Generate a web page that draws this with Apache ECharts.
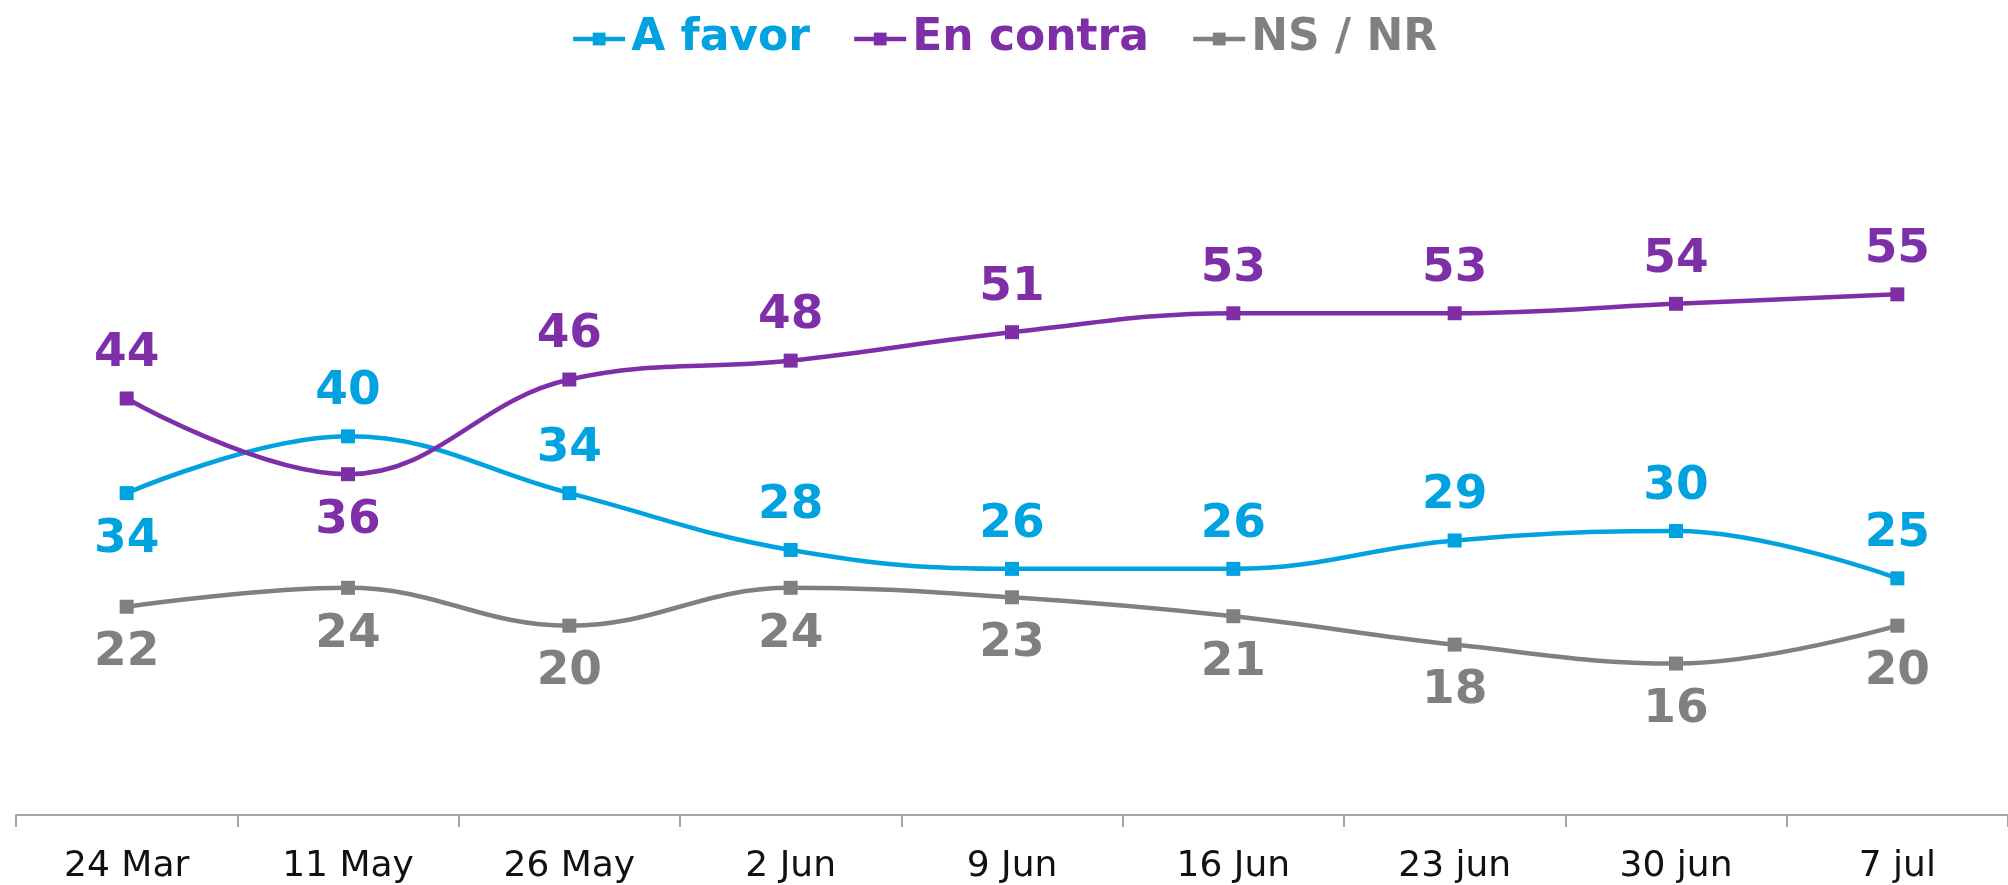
<!DOCTYPE html>
<html>
<head>
<meta charset="utf-8">
<script src="https://cdn.jsdelivr.net/npm/echarts@6/dist/echarts.min.js"></script>
<style>
  html, body { margin: 0; padding: 0; background: #fff; }
  #chart { width: 2008px; height: 885px; }
</style>
</head>
<body>
<div id="chart"></div>
<script>
const categories = ['24 Mar', '11 May', '26 May', '2 Jun', '9 Jun', '16 Jun', '23 jun', '30 jun', '7 jul'];
const aFavor = [34, 40, 34, 28, 26, 26, 29, 30, 25];
const enContra = [44, 36, 46, 48, 51, 53, 53, 54, 55];
const nsNr = [22, 24, 20, 24, 23, 21, 18, 16, 20];

// which labels sit under the point instead of above it
const aFavorBelow = [0];
const enContraBelow = [1];

const BLUE = '#00A2DF';
const PURPLE = '#7E2FA8';
const GRAY = '#808080';

const chart = echarts.init(document.getElementById('chart'));

const labelFont = {
    fontFamily: 'DejaVu Sans',
    fontWeight: 'bold',
    fontSize: 47
};

function makeData(values, below, allBelow) {
    return values.map((v, i) => {
        const under = allBelow || below.indexOf(i) >= 0;
        return {
            value: v,
            label: {
                position: under ? 'bottom' : 'top',
                distance: under ? 16 : 14
            }
        };
    });
}

function makeSeries(name, values, color, below, allBelow) {
    return {
        name: name,
        type: 'line',
        smooth: 0.4,
        symbol: 'rect',
        symbolSize: 14,
        lineStyle: { width: 4.5, color: color },
        itemStyle: { color: color },
        label: Object.assign({
            show: true,
            color: color
        }, labelFont),
        data: makeData(values, below, allBelow)
    };
}

const option = {
    animation: false,
    grid: {
        top: 247,
        bottom: 69,
        left: 16,
        right: 0,
        containLabel: false
    },
    legend: {
        top: 12,
        left: 'center',
        itemWidth: 52,
        itemHeight: 16,
        itemGap: 42,
        lineStyle: { width: 4.5 },
        textStyle: {
            fontFamily: 'DejaVu Sans',
            fontWeight: 'bold',
            fontSize: 44,
            padding: [0, 0, 0, 1]
        },
        data: [
            { name: 'A favor', textStyle: { color: BLUE } },
            { name: 'En contra', textStyle: { color: PURPLE } },
            { name: 'NS / NR', textStyle: { color: GRAY } }
        ]
    },
    xAxis: {
        type: 'category',
        data: categories,
        axisLine: { lineStyle: { color: '#A6A6A6', width: 2 } },
        axisTick: { show: true, length: 12, lineStyle: { color: '#A6A6A6', width: 2 } },
        axisLabel: {
            color: '#111',
            fontFamily: 'DejaVu Sans',
            fontSize: 36,
            margin: 34
        }
    },
    yAxis: {
        type: 'value',
        min: 0,
        max: 60,
        show: false,
        splitLine: { show: false }
    },
    series: [
        makeSeries('A favor', aFavor, BLUE, aFavorBelow, false),
        makeSeries('En contra', enContra, PURPLE, enContraBelow, false),
        makeSeries('NS / NR', nsNr, GRAY, [], true)
    ]
};

chart.setOption(option);

window.addEventListener('resize', _ => {
    chart.resize();
});
</script>
</body>
</html>
